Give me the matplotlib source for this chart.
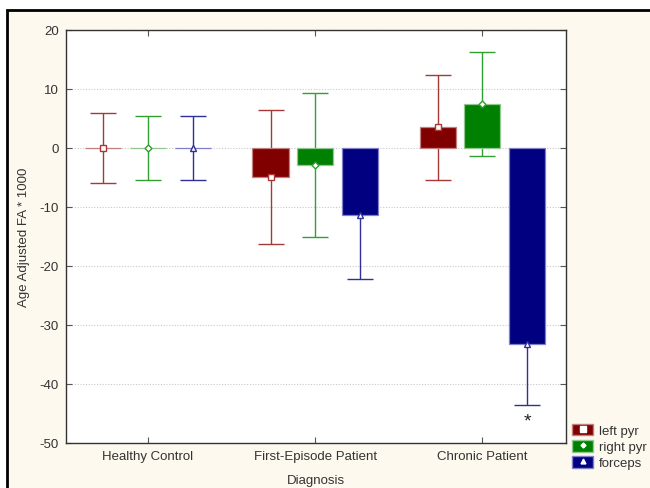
import matplotlib
matplotlib.use('Agg')
from matplotlib import pyplot as plt
from matplotlib.patches import Rectangle, Patch
from matplotlib.lines import Line2D
from matplotlib.legend_handler import HandlerTuple
import numpy as np

plt.rcParams['font.family'] = ['Liberation Sans', 'DejaVu Sans']
plt.rcParams['font.size'] = 9.5
plt.rcParams['axes.unicode_minus'] = False

categories = ['Healthy Control', 'First-Episode Patient', 'Chronic Patient']
series = ['left pyr', 'right pyr', 'forceps']
left_pyr = [0.0, -4.9, 3.5]
left_pyr_err = [5.9, 11.3, 8.9]
right_pyr = [0.0, -2.8, 7.4]
right_pyr_err = [5.5, 12.2, 8.8]
forceps = [0.0, -11.4, -33.3]
forceps_err = [5.5, 10.8, 10.3]
yticks = [-50, -40, -30, -20, -10, 0, 10, 20]

means = [left_pyr, right_pyr, forceps]
errs = [left_pyr_err, right_pyr_err, forceps_err]
bar_colors = ['#800000', '#008000', '#000080']
edge_colors = ['#c08080', '#90c890', '#8080c8']
line_colors = ['#a83838', '#30a030', '#303098']
markers = ['s', 'D', '^']
msizes = [5, 3.5, 4.5]

W, H = 650, 489
fig = plt.figure(figsize=(W / 100, H / 100), dpi=100, facecolor='white')

# cream panel with black border
fig.add_artist(Rectangle((7 / W, -0.05), 1.0, 1 - 11 / H + 0.05, transform=fig.transFigure,
                         facecolor='#fdf9ef', edgecolor='black', linewidth=2, zorder=0))

ax = fig.add_axes([66 / W, (H - 444) / H, 500 / W, 413 / H])
ax.set_facecolor('white')

x = np.arange(len(categories))
offset = 0.267
width = 0.216
for i in range(3):
    xs = x + (i - 1) * offset
    ax.errorbar(xs, means[i], yerr=errs[i], fmt='none', ecolor=line_colors[i],
                elinewidth=1, capsize=9.5, capthick=1, zorder=2)
    ax.bar(xs, means[i], width=width, color=bar_colors[i], edgecolor=edge_colors[i],
           linewidth=0.9, zorder=3)
    ax.plot(xs, means[i], linestyle='none', marker=markers[i], ms=msizes[i],
            mfc='white', mec=line_colors[i], mew=1, zorder=4)

ax.text(2 + offset, -46.3, '*', ha='center', va='center', fontsize=14, color='#222222')

ax.set_xlim(-0.49, 2.5)
ax.set_ylim(-50, 20)
ax.set_yticks(yticks)
ax.set_xticks(x)
ax.set_xticklabels(categories)
ax.tick_params(direction='in', length=4, width=0.8, color='#555555', labelcolor='#333333',
               top=True, right=True, pad=5)
ax.grid(axis='y', linestyle=(0, (1, 1.5)), color='#c8c8c8', linewidth=0.8, zorder=0)
ax.set_axisbelow(True)
for s in ax.spines.values():
    s.set_linewidth(1)
    s.set_color('#333333')

ax.set_xlabel('Diagnosis', color='#333333', labelpad=9)
ax.set_ylabel('Age Adjusted FA * 1000', color='#333333', labelpad=7)

handles = []
for i in range(3):
    handles.append((Patch(facecolor=bar_colors[i], edgecolor=edge_colors[i]),
                    Line2D([], [], linestyle='none', marker=markers[i], ms=msizes[i] - 1,
                           mfc='white', mec='white')))
fig.legend(handles, series, loc='upper left', bbox_to_anchor=(572 / W, 1 - 425 / H),
           frameon=False, borderpad=0, borderaxespad=0, handlelength=1.6, handleheight=0.95,
           labelspacing=0.22, handletextpad=0.45, fontsize=9.5,
           handler_map={tuple: HandlerTuple(ndivide=1, pad=0)}, labelcolor='#333333')

plt.savefig('out.png', dpi=100)
print("out.png saved")
